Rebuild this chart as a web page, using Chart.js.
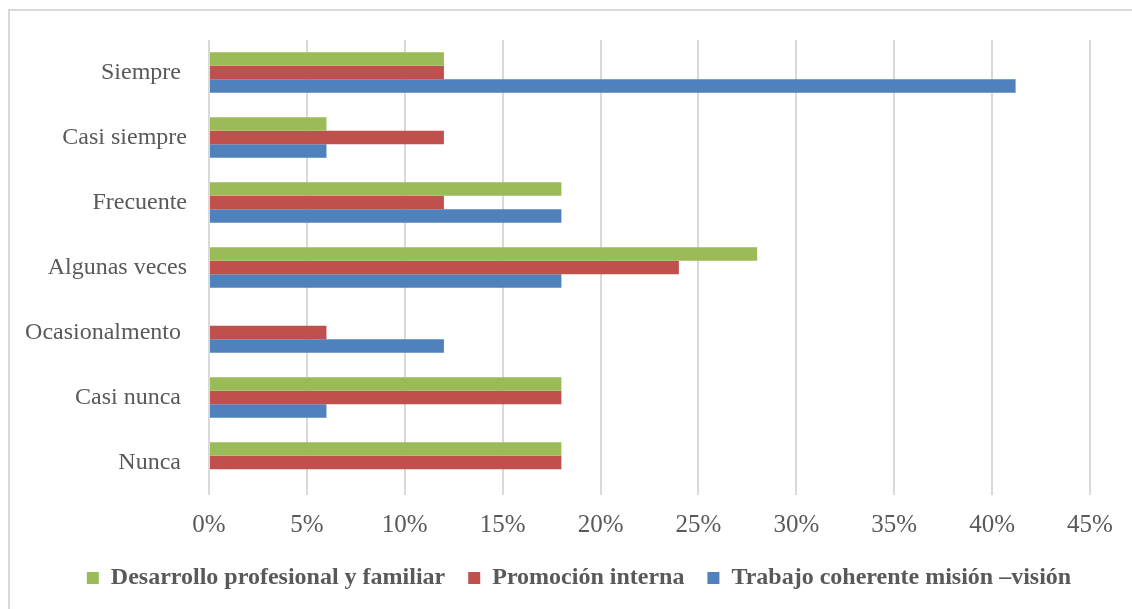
<!DOCTYPE html>
<html>
<head>
<meta charset="utf-8">
<script src="https://cdn.jsdelivr.net/npm/chart.js@4"></script>
<style>
  html, body { margin: 0; padding: 0; background: #fff; }
  #wrap { position: relative; width: 1132px; height: 609px; overflow: hidden; }
  #frame { position: absolute; left: 8px; top: 9px; width: 1200px; height: 700px; border: 2px solid #d9d9d9; }
  #chart { position: absolute; left: 0; top: 0; }
</style>
</head>
<body>
<div id="wrap">
  <div id="frame"></div>
  <canvas id="chart" width="1132" height="609"></canvas>
</div>
<script>
document.addEventListener('DOMContentLoaded', function() {
    // --- Categories (top to bottom) and series values in % ---
    const categories = ['Siempre ', 'Casi siempre', 'Frecuente', 'Algunas veces', 'Ocasionalmento ', 'Casi nunca ', 'Nunca '];
    const desarrollo = [12, 6, 18, 28, 0, 18, 18];
    const promocion = [12, 12, 12, 24, 6, 18, 18];
    const trabajo = [41.2, 6, 18, 18, 12, 6, 0];
    const xTicks = [0, 5, 10, 15, 20, 25, 30, 35, 40, 45];

    const textColor = '#595959';
    const serif = "'Liberation Serif', 'Times New Roman', serif";

    // nudge the legend row to the right, under the plot area
    const legendShift = {
        id: 'legendShift',
        afterLayout: function(chart) {
            const lg = chart.legend;
            if (!lg) return;
            lg.left += 34;
            lg.right += 34;
        }
    };

    new Chart(document.getElementById('chart').getContext('2d'), {
        type: 'bar',
        data: {
            labels: categories,
            datasets: [
                { label: 'Desarrollo profesional y familiar', data: desarrollo, backgroundColor: '#9BBB59' },
                { label: 'Promoción interna', data: promocion, backgroundColor: '#C0504D' },
                { label: 'Trabajo coherente misión –visión', data: trabajo, backgroundColor: '#4F81BD' }
            ]
        },
        options: {
            indexAxis: 'y',
            responsive: false,
            animation: false,
            layout: { padding: { left: 0, right: 42, top: 40, bottom: 9 } },
            datasets: {
                bar: { categoryPercentage: 0.62, barPercentage: 1.0, borderWidth: 0 }
            },
            scales: {
                x: {
                    min: 0,
                    max: 45,
                    afterBuildTicks: function(axis) { axis.ticks = xTicks.map(v => ({ value: v })); },
                    afterFit: function(axis) { axis.height = 48; },
                    grid: { color: '#d9d9d9', lineWidth: 2, drawTicks: false },
                    border: { display: false },
                    ticks: {
                        color: textColor,
                        padding: 15,
                        font: { family: serif, size: 25 },
                        callback: function(value) { return value + '%'; }
                    }
                },
                y: {
                    afterFit: function(axis) { axis.width = 209; },
                    grid: { display: false, drawTicks: false },
                    border: { display: false },
                    ticks: {
                        color: textColor,
                        padding: 22,
                        font: { family: serif, size: 24 }
                    }
                }
            },
            plugins: {
                legend: {
                    position: 'bottom',
                    labels: {
                        color: textColor,
                        boxWidth: 12,
                        boxHeight: 12,
                        padding: 23,
                        font: { family: serif, size: 24, weight: 'bold' }
                    }
                },
                tooltip: { enabled: false }
            }
        },
        plugins: [legendShift]
    });
});
</script>
</body>
</html>
